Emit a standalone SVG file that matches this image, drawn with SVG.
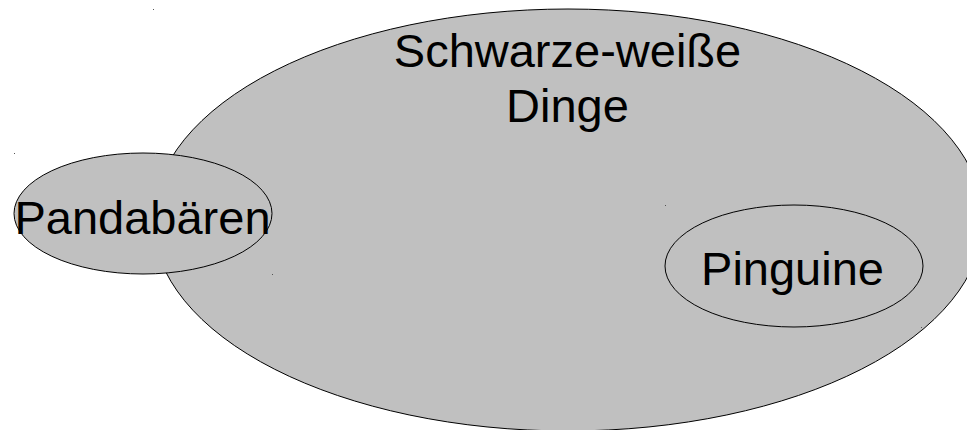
<svg xmlns="http://www.w3.org/2000/svg" width="967" height="430" viewBox="0 0 967 430">
<style>
.shape{fill:#c0c0c0;stroke:#000;stroke-width:1}
.lbl{font-family:"Liberation Sans",Arial,sans-serif;font-size:47px;fill:#000;text-anchor:middle}
.dot{fill:#555}
</style>
<rect width="967" height="430" fill="#fff"/>
<g id="schwarz-weiss">
<ellipse class="shape" cx="568" cy="220" rx="415" ry="211"/>
<text class="lbl" x="567.5" y="66.5">Schwarze-weiße</text>
<text class="lbl" x="567.5" y="121.5">Dinge</text>
</g>
<g id="pandabaeren">
<ellipse class="shape" cx="143" cy="213.5" rx="129" ry="60.5"/>
<text class="lbl" x="142.5" y="233.5">Pandabären</text>
</g>
<g id="pinguine">
<ellipse class="shape" cx="794" cy="266" rx="129" ry="61"/>
<text class="lbl" x="792.5" y="285">Pinguine</text>
</g>
<g id="connectors"/>
<g id="marks">
<rect class="dot" x="153" y="9" width="1" height="1"/>
<rect class="dot" x="14" y="153" width="1" height="1"/>
<rect class="dot" x="272" y="274" width="1" height="1"/>
<rect class="dot" x="665" y="205" width="1" height="1"/>
<rect class="dot" x="921" y="327" width="1" height="1"/>
</g>
</svg>
